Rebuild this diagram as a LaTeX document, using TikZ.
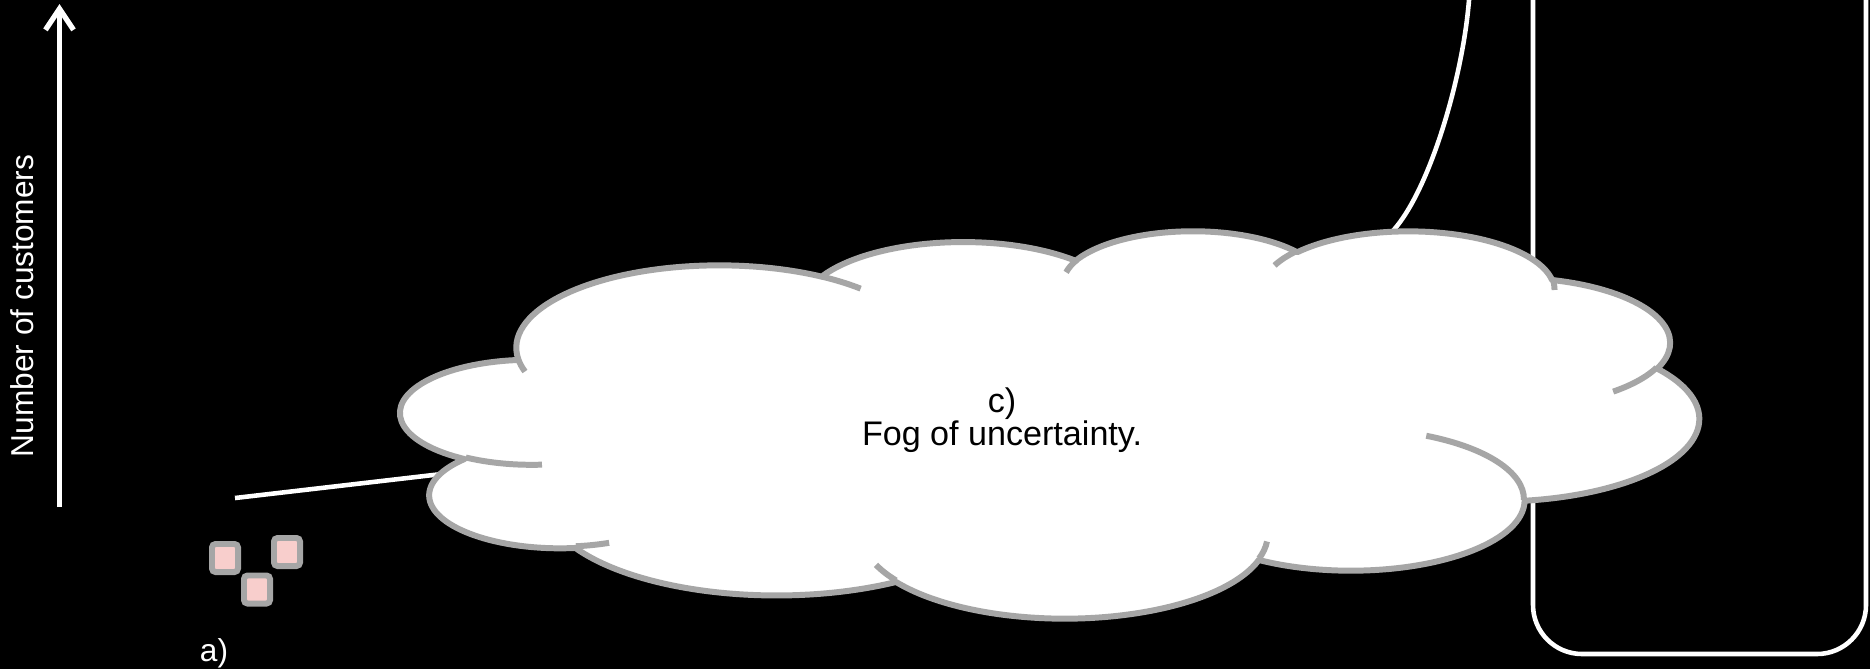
\documentclass[tikz,border=0pt]{standalone}
\usepackage{fontspec}
\setmainfont{Liberation Sans}
\usetikzlibrary{arrows.meta}
\definecolor{fogline}{HTML}{A6A6A6}
\definecolor{boxpink}{HTML}{F8CECC}
% visual angle of an ellipse arc -> parametric angle
\tikzset{declare function={pang(\a,\w,\h)=\a-atan2(sin(\a),cos(\a))+atan2(\w*sin(\a),\h*cos(\a));}}
\newcommand{\cloudarc}[4]{arc[x radius=#1, y radius=#2, start angle={pang(#3,#1,#2)}, end angle={pang(#3+#4,#1,#2)}]}

\begin{document}
\begin{tikzpicture}[x=0.01cm, y=-0.01cm, font=\fontsize{9}{10}\selectfont,
  wline/.style={white, line width=1.3pt},
  custbox/.style={draw=fogline, fill=boxpink, line width=1.7pt, rounded corners=1pt,
    minimum width=0.26cm, minimum height=0.28cm, inner sep=0pt}]
  % Background
  \useasboundingbox (0,0) rectangle (1870,669);
  \fill[black] (0,0) rectangle (1870,669);
  % Axis
  \draw[wline, line width=1.5pt, -{Straight Barb[length=6pt, width=8pt]}] (59.5,507) -- (59.5,4);
  \node[white, rotate=90] (ylabel) at (22.5,306) {Number of customers};
  % a) first customers
  \node[custbox] (cust1) at (225,558) {};
  \node[custbox] (cust2) at (287,552) {};
  \node[custbox] (cust3) at (257,589.5) {};
  \node[white, anchor=base] (alabel) at (214,661) {a)};
  % Growth curve, mostly hidden by the fog
  \draw[wline] (235,498) -- (640,451) .. controls (1040,405) and (1348,289) .. (1397,226)
    .. controls (1432,182) and (1463,75) .. (1469,0);
  % Right panel
  \draw[wline, rounded corners=0.49cm] (1533,0) -- (1533,654) -- (1866,654) -- (1866,0);
  % c) Fog of uncertainty
  \begin{scope}[shift={(401,230)}, x=0.30023cm, y=-0.089583cm, line join=round]
    \filldraw[fill=white, draw=fogline, line width=1.7pt] (3.900,14.370)
      \cloudarc{6.753}{9.190}{-190.4875}{123.7805}
      \cloudarc{5.333}{7.267}{-144.1024}{89.9452}
      \cloudarc{4.365}{5.945}{-145.8079}{99.7230}
      \cloudarc{4.857}{6.595}{-130.9861}{117.2417}
      \cloudarc{5.333}{7.273}{-78.7089}{109.0269}
      \cloudarc{6.775}{9.220}{-46.2673}{130.2690}
      \cloudarc{5.785}{7.867}{0.6250}{114.0333}
      \cloudarc{6.752}{9.215}{22.4516}{115.1726}
      \cloudarc{7.720}{10.543}{66.2426}{75.7110}
      \cloudarc{4.360}{5.918}{-274.9421}{146.7356}
      \cloudarc{4.345}{5.945}{-246.8285}{152.5189}
      -- cycle;
    \draw[fogline, line width=1.7pt]
      (4.693,26.177) \cloudarc{4.345}{5.945}{86.7420}{26.4295}
      (6.928,34.899) \cloudarc{4.360}{5.918}{73.6105}{11.4475}
      (16.478,39.090) \cloudarc{6.752}{9.215}{137.6242}{14.0811}
      (28.827,34.751) \cloudarc{6.752}{9.215}{6.4533}{15.9984}
      (34.129,22.954) \cloudarc{5.785}{7.867}{-70.2924}{70.9174}
      (41.798,15.354) \cloudarc{5.333}{7.273}{30.3180}{27.7515}
      (38.324,5.426) \cloudarc{4.857}{6.595}{-13.7443}{14.8589}
      (29.078,3.952) \cloudarc{4.857}{6.595}{-149.1815}{18.1954}
      (22.141,4.720) \cloudarc{4.365}{5.945}{-163.4943}{17.6864}
      (14.000,5.192) \cloudarc{6.753}{9.190}{-66.7070}{12.3194}
      (4.127,15.789) \cloudarc{6.753}{9.190}{157.6544}{11.8539};
  \end{scope}
  \node[align=center, font=\fontsize{9.7}{9.3}\selectfont] (fog) at (1002,420) {c)\\Fog of uncertainty.};
\end{tikzpicture}
\end{document}
